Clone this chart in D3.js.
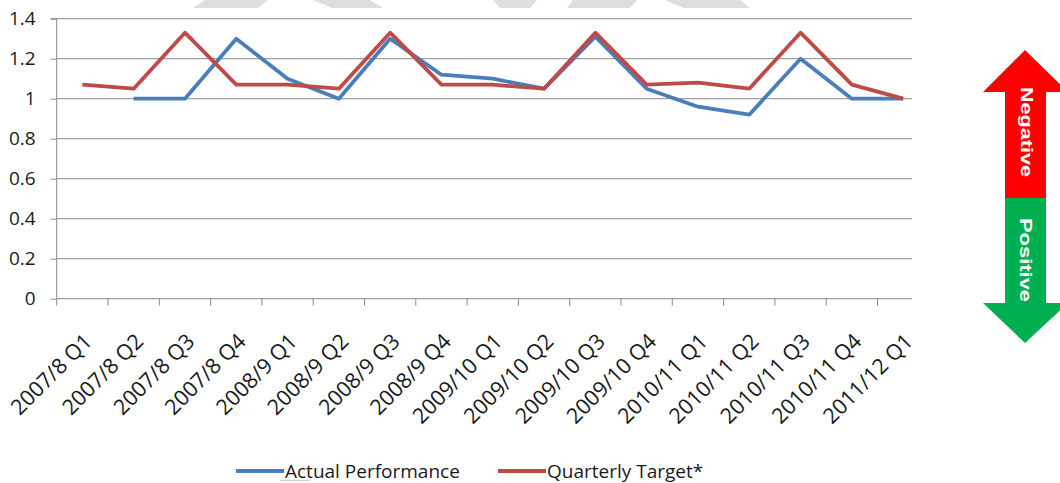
<!DOCTYPE html>
<html>
<head>
<meta charset="utf-8">
<script src="https://cdn.jsdelivr.net/npm/d3@7"></script>
<style>
  body { margin: 0; background: #fff; }
  svg { display: block; font-family: "Open Sans", sans-serif; }
</style>
</head>
<body>
<div class="chart"></div>
<script>
// data
const quarters = ["2007/8 Q1", "2007/8 Q2", "2007/8 Q3", "2007/8 Q4",
  "2008/9 Q1", "2008/9 Q2", "2008/9 Q3", "2008/9 Q4",
  "2009/10 Q1", "2009/10 Q2", "2009/10 Q3", "2009/10 Q4",
  "2010/11 Q1", "2010/11 Q2", "2010/11 Q3", "2010/11 Q4", "2011/12 Q1"];
const actual = [null, 1.0, 1.0, 1.30, 1.10, 1.0, 1.30, 1.12, 1.10, 1.05, 1.31, 1.05, 0.96, 0.92, 1.20, 1.0, 1.0];
const target = [1.07, 1.05, 1.33, 1.07, 1.07, 1.05, 1.33, 1.07, 1.07, 1.05, 1.33, 1.07, 1.08, 1.05, 1.33, 1.07, 1.0];
const yTicks = [0, 0.2, 0.4, 0.6, 0.8, 1, 1.2, 1.4];
const seriesNames = ["Actual Performance", "Quarterly Target*"];
const seriesColors = ["#4a7ebb", "#be4b48"];

const W = 1060, H = 483;
// the plot frame stops at 912 even though the last band runs past it
const plot = {left: 56.7, right: 912, top: 18.7, bottom: 298.7, bandEnd: 928.8};
const FONT = "Open Sans";
const gridColor = "#8a8a8a";

const svg = d3.select(".chart").append("svg")
  .attr("width", W).attr("height", H);

// faded watermark pieces at the top edge
const marks = [
  [[205, 0], [268, 0], [258, 8], [193, 8]],
  [[313, 0], [370, 0], [383, 8], [332, 8]],
  [[493, 0], [537, 0], [530, 8], [500, 8]],
  [[573, 0], [637, 0], [630, 8], [567, 8]],
  [[665, 0], [740, 0], [750, 8], [683, 8]]
];
svg.selectAll(".wm").data(marks).enter().append("polygon")
  .attr("class", "wm")
  .attr("points", d => d.map(p => p.join(",")).join(" "))
  .attr("fill", "#dedede");

const xScale = d3.scaleBand()
  .domain(quarters)
  .range([plot.left, plot.bandEnd]);

const yScale = d3.scaleLinear()
  .domain([0, 1.4])
  .range([plot.bottom, plot.top]);

// gridlines
svg.append("g").selectAll("line").data(yTicks.filter(d => d > 0)).enter().append("line")
  .attr("x1", plot.left).attr("x2", plot.right)
  .attr("y1", d => yScale(d)).attr("y2", d => yScale(d))
  .attr("stroke", gridColor).attr("stroke-width", 1);

// y axis
const yAxis = d3.axisLeft(yScale)
  .tickValues(yTicks)
  .tickFormat(d => d3.format("")(d))
  .tickSize(6)
  .tickPadding(15);

const gy = svg.append("g")
  .attr("class", "axis y-axis")
  .attr("transform", `translate(${plot.left},0)`)
  .call(yAxis);
gy.attr("font-family", FONT);
gy.select(".domain").attr("stroke", gridColor).attr("d", `M-6,${plot.top}H0V${plot.bottom}`);
gy.selectAll(".tick line").attr("stroke", gridColor);
gy.selectAll(".tick text")
  .attr("font-size", 19)
  .attr("fill", "#1a1a1a");

// x axis: labels at band centres, tick marks at band edges
const xAxis = d3.axisBottom(xScale).tickSize(0).tickPadding(0);
const gx = svg.append("g")
  .attr("class", "axis x-axis")
  .attr("transform", `translate(0,${plot.bottom})`)
  .call(xAxis);
gx.attr("font-family", FONT);
gx.select(".domain").attr("stroke", gridColor).attr("d", `M${plot.left},0H${plot.right}`);
gx.selectAll(".tick text")
  .attr("font-size", 21.5)
  .attr("fill", "#1a1a1a")
  .attr("text-anchor", "end")
  .attr("dy", 0)
  .attr("y", 0)
  .attr("transform", "translate(11,44) rotate(-45)");

gx.append("g").selectAll("line").data(quarters.filter(q => xScale(q) <= plot.right)).enter().append("line")
  .attr("x1", d => xScale(d)).attr("x2", d => xScale(d))
  .attr("y1", 0).attr("y2", 7)
  .attr("stroke", gridColor);

// lines
const line = d3.line()
  .defined(d => d.v != null)
  .x(d => xScale(d.q) + xScale.bandwidth() / 2)
  .y(d => yScale(d.v));

[actual, target].forEach((vals, i) => {
  svg.append("path")
    .datum(quarters.map((q, j) => ({q: q, v: vals[j]})))
    .attr("fill", "none")
    .attr("stroke", seriesColors[i])
    .attr("stroke-width", 3.8)
    .attr("stroke-linejoin", "round")
    .attr("d", line);
});

// legend
const legendX = [236, 498];
const legend = svg.append("g").attr("font-family", FONT);
seriesNames.forEach((name, i) => {
  legend.append("line")
    .attr("x1", legendX[i]).attr("x2", legendX[i] + 48)
    .attr("y1", 471).attr("y2", 471)
    .attr("stroke", seriesColors[i]).attr("stroke-width", 3.8);
  legend.append("text")
    .attr("x", legendX[i] + 49).attr("y", 478)
    .attr("font-size", 19)
    .attr("fill", "#1a1a1a")
    .text(name);
});
legend.append("line")
  .attr("x1", 280).attr("x2", 310).attr("y1", 480.5).attr("y2", 480.5)
  .attr("stroke", "#d0d0d0");

// up / down arrow on the right
const arrow = svg.append("g")
  .attr("font-family", "Liberation Sans, Arial, sans-serif")
  .attr("font-weight", "bold")
  .attr("font-size", 17)
  .attr("fill", "#fff");
arrow.append("polygon")
  .attr("points", "1025,50 1068,92 1046,92 1046,198 1005,198 1005,92 983,92")
  .attr("fill", "#ff0000");
arrow.append("polygon")
  .attr("points", "1005,198 1046,198 1046,303 1068,303 1025,343 983,303 1005,303")
  .attr("fill", "#00b050");
arrow.append("text")
  .attr("transform", "translate(1021,132) rotate(90)")
  .attr("text-anchor", "middle")
  .attr("textLength", 90)
  .attr("lengthAdjust", "spacingAndGlyphs")
  .text("Negative");
arrow.append("text")
  .attr("transform", "translate(1020,260) rotate(90)")
  .attr("text-anchor", "middle")
  .attr("textLength", 84)
  .attr("lengthAdjust", "spacingAndGlyphs")
  .text("Positive");
</script>
</body>
</html>
